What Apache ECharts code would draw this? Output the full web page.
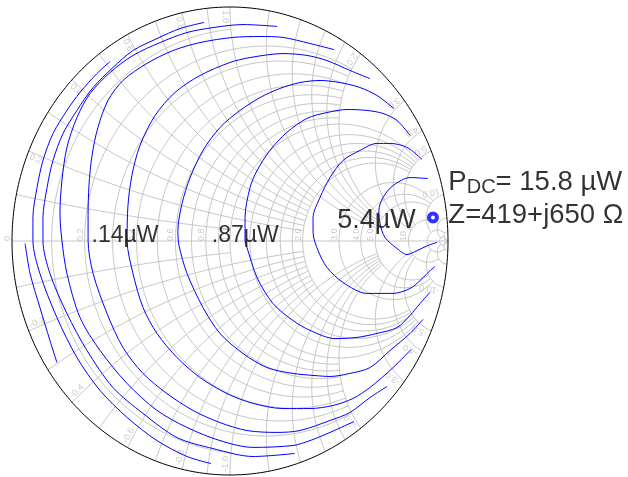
<!DOCTYPE html>
<html><head><meta charset="utf-8">
<script src="https://cdn.jsdelivr.net/npm/echarts@6/dist/echarts.min.js"></script>
<style>html,body{margin:0;padding:0;background:#fff}#c{width:628px;height:477px}</style>
</head><body><div id="c"></div>
<script>
// ---- Smith chart grid definition (normalized values and how far each circle extends) ----
const gridValues = [0.1,0.2,0.3,0.4,0.5,0.6,0.7,0.8,0.9,1.0,1.2,1.4,1.6,1.8,2,3,4,5,10,20,50];
const gridEnds   = [1,2,2,2,2,2,2,2,2,5,5,5,5,5,5,10,10,10,20,50,Infinity];
const axisLabelValues = [0,0.2,0.4,0.6,0.8,1.0,2.0,3.0,4.0,5.0,10];
const axisLabelTexts  = ['0','0.2','0.4','0.6','0.8','1.0','2.0','3.0','4.0','5.0','10'];
const rimLabelValues  = [0.2,0.4,0.6,0.8,1.0,2.0,3.0,4.0,5.0,10.0];
const rimLabelTexts   = ['0.2','0.4','0.6','0.8','1.0','2.0','3.0','4.0','5.0','10.0'];

// ---- power contours, reflection coefficient [Re, Im] ----
const contour1 = [[0.908,0.267],[0.826,0.271],[0.748,0.237],[0.702,0.186],[0.683,0.130],[0.688,0.075],[0.711,0.015],[0.766,-0.032],[0.812,-0.058],[0.858,-0.041],[0.908,-0.019],[0.950,-0.006]];
const contour2 = [[0.881,0.348],[0.812,0.400],[0.734,0.417],[0.674,0.417],[0.596,0.387],[0.518,0.344],[0.459,0.271],[0.413,0.186],[0.381,0.100],[0.381,0.036],[0.404,-0.041],[0.445,-0.113],[0.518,-0.177],[0.628,-0.224],[0.748,-0.224],[0.826,-0.203],[0.872,-0.169],[0.904,-0.139],[0.940,-0.109]];
const contour3 = [[0.826,0.451],[0.766,0.515],[0.702,0.545],[0.628,0.558],[0.537,0.562],[0.445,0.549],[0.353,0.524],[0.261,0.464],[0.183,0.387],[0.124,0.301],[0.092,0.229],[0.069,0.100],[0.069,0.002],[0.078,-0.028],[0.124,-0.156],[0.197,-0.267],[0.289,-0.340],[0.367,-0.382],[0.482,-0.417],[0.583,-0.412],[0.674,-0.395],[0.766,-0.370],[0.826,-0.318],[0.872,-0.267],[0.917,-0.220]];
const contour4 = [[0.752,0.566],[0.674,0.622],[0.596,0.656],[0.505,0.677],[0.413,0.686],[0.321,0.677],[0.229,0.652],[0.138,0.613],[0.046,0.558],[-0.046,0.485],[-0.124,0.387],[-0.183,0.271],[-0.220,0.160],[-0.239,0.045],[-0.234,-0.019],[-0.197,-0.139],[-0.124,-0.284],[-0.046,-0.395],[0.060,-0.481],[0.170,-0.541],[0.289,-0.566],[0.390,-0.575],[0.459,-0.579],[0.550,-0.566],[0.642,-0.541],[0.734,-0.468],[0.826,-0.395],[0.885,-0.335]];
const contour5 = [[0.642,0.694],[0.550,0.729],[0.445,0.771],[0.353,0.793],[0.243,0.801],[0.092,0.784],[0.000,0.763],[-0.138,0.707],[-0.252,0.635],[-0.344,0.536],[-0.413,0.408],[-0.450,0.280],[-0.468,0.152],[-0.472,0.002],[-0.445,-0.139],[-0.399,-0.284],[-0.335,-0.395],[-0.243,-0.498],[-0.138,-0.583],[-0.014,-0.652],[0.106,-0.694],[0.243,-0.716],[0.367,-0.716],[0.472,-0.703],[0.564,-0.673],[0.642,-0.626],[0.748,-0.541],[0.830,-0.464]];
const contour6 = [[0.477,0.818],[0.367,0.844],[0.243,0.870],[0.138,0.874],[0.014,0.870],[-0.138,0.848],[-0.261,0.814],[-0.381,0.759],[-0.491,0.686],[-0.560,0.600],[-0.606,0.485],[-0.633,0.365],[-0.647,0.237],[-0.651,0.109],[-0.651,0.002],[-0.628,-0.139],[-0.564,-0.310],[-0.491,-0.455],[-0.399,-0.566],[-0.289,-0.652],[-0.170,-0.724],[-0.046,-0.776],[0.078,-0.810],[0.216,-0.818],[0.321,-0.810],[0.459,-0.767],[0.550,-0.733],[0.642,-0.669],[0.720,-0.622]];
const contour7 = [[0.216,0.917],[0.060,0.925],[-0.078,0.912],[-0.197,0.891],[-0.321,0.848],[-0.445,0.793],[-0.550,0.720],[-0.642,0.630],[-0.702,0.528],[-0.748,0.400],[-0.771,0.259],[-0.780,0.118],[-0.771,0.002],[-0.748,-0.139],[-0.688,-0.327],[-0.596,-0.468],[-0.472,-0.609],[-0.335,-0.724],[-0.197,-0.797],[-0.046,-0.853],[0.106,-0.882],[0.289,-0.874],[0.367,-0.853],[0.459,-0.818],[0.569,-0.771]];
const contour8 = [[-0.119,0.934],[-0.229,0.908],[-0.335,0.865],[-0.445,0.814],[-0.537,0.741],[-0.628,0.656],[-0.702,0.558],[-0.766,0.459],[-0.812,0.344],[-0.839,0.229],[-0.858,0.100],[-0.858,0.002],[-0.826,-0.139],[-0.748,-0.310],[-0.656,-0.468],[-0.537,-0.626],[-0.399,-0.737],[-0.243,-0.840],[-0.078,-0.887],[0.106,-0.921],[0.298,-0.908]];
const contour9 = [[-0.550,0.767],[-0.610,0.716],[-0.688,0.635],[-0.748,0.558],[-0.812,0.459],[-0.858,0.344],[-0.885,0.229],[-0.904,0.100],[-0.904,0.002],[-0.872,-0.139],[-0.794,-0.327],[-0.702,-0.498],[-0.596,-0.639],[-0.472,-0.754],[-0.335,-0.853],[-0.197,-0.921],[-0.087,-0.951]];
const contour10 = [[-0.940,-0.011],[-0.917,-0.139],[-0.872,-0.284],[-0.826,-0.425],[-0.794,-0.519]];
const contours = [contour1,contour2,contour3,contour4,contour5,contour6,contour7,contour8,contour9,contour10];

// optimum point: Z = 419 + j650 Ω  (Γ)
const optimumGamma = [0.931, 0.100];

// contour level labels and their anchor (Γ)
const levelTexts = ['.14µW', '.87µW', '5.4µW'];
const levelAnchors = [[-0.635,0.024],[-0.083,0.024],[0.492,0.088]];
const pdcAnchor = [0.995, 0.251];
const zAnchor = [0.995, 0.109];

// ---------------------------------------------------------------
const FONT = 'Liberation Sans, Arial, Helvetica, sans-serif';
function gam(r, x){ const d=(r+1)*(r+1)+x*x; return [(r*r-1+x*x)/d, 2*x/d]; }
const series = [];
const gridStyle = {color:'#c6c6c6', width:1};
function addLine(pts, style, z, smooth){
  series.push({type:'line', data:pts, showSymbol:false, symbol:'none', silent:true,
    lineStyle:style, z:z, animation:false, clip:false, smooth: smooth||false});
}
gridValues.forEach((v,i)=>{
  const e = gridEnds[i];
  const pm = e===Infinity ? Math.PI/2 - 1e-4 : Math.atan(e);
  const N = 160;
  const rc=[]; for(let k=0;k<=N;k++){ rc.push(gam(v, Math.tan(-pm+2*pm*k/N))); }
  addLine(rc, gridStyle, 1);
  [v,-v].forEach(xv=>{ const a=[]; for(let k=0;k<=N;k++){ a.push(gam(Math.tan(pm*k/N), xv)); } addLine(a, gridStyle, 1); });
});
addLine([[-1,0],[1,0]], gridStyle, 1);
const outer=[]; for(let k=0;k<=360;k++){ const t=k*Math.PI/180; outer.push([Math.cos(t),Math.sin(t)]); }
addLine(outer, {color:'#000', width:1}, 3);

contours.forEach(c=>addLine(c, {color:'#0000ff', width:1}, 5, 0.3));

// grid labels
const labelItems = [];
axisLabelValues.forEach((r,i)=>{
  labelItems.push({value:[(r-1)/(r+1),0], label:{show:true, formatter:axisLabelTexts[i], position:[0,0],
    align:'left', verticalAlign:'bottom', rotate:90, fontSize:9, color:'#bdbdbd', fontFamily:FONT}});
});
rimLabelValues.forEach((v,i)=>{
  [1,-1].forEach(s=>{
    const xv = s*v;
    const th = Math.atan2(2*xv, xv*xv-1);
    let rot = th*180/Math.PI - 180; if(rot<=-180) rot+=360;
    labelItems.push({value:[0.985*Math.cos(th), 0.985*Math.sin(th)], label:{show:true,
      formatter:(s<0?'-':'')+rimLabelTexts[i], position:[0,0], align:'left',
      verticalAlign: s>0?'top':'bottom', rotate:rot, fontSize:9, color:'#bdbdbd', fontFamily:FONT}});
  });
});
series.push({type:'scatter', data:labelItems, symbolSize:0.1, itemStyle:{color:'rgba(0,0,0,0)'}, silent:true, z:2, animation:false});

// marker
series.push({type:'scatter', data:[optimumGamma], symbol:'circle', symbolSize:8,
  itemStyle:{color:'#fff', borderColor:'#0000ff', borderWidth:4}, z:8, silent:true, animation:false});

// text annotations
const textItems = [];
levelTexts.forEach((t,i)=>{
  textItems.push({value:levelAnchors[i], label:{show:true, formatter:t, position:[0,0], align:'left',
    verticalAlign:'middle', fontSize: i===2?27:23, color:'#000', fontFamily:FONT}});
});
textItems.push({value:pdcAnchor, label:{show:true, formatter:'{a|P}{b|DC}{a|= 15.8 µW}', position:[1.5,0],
  align:'left', verticalAlign:'middle', fontFamily:FONT,
  rich:{a:{fontSize:27.5, lineHeight:30, color:'#000', fontFamily:FONT}, b:{fontSize:20, lineHeight:18, verticalAlign:'bottom', color:'#000', fontFamily:FONT}}}});
textItems.push({value:zAnchor, label:{show:true, formatter:'Z=419+j650 Ω', position:[1.5,0], align:'left',
  verticalAlign:'middle', fontSize:27.5, color:'#000', fontFamily:FONT}});
series.push({type:'scatter', data:textItems, symbolSize:0.1, itemStyle:{color:'rgba(0,0,0,0)'}, silent:true, z:10, animation:false, clip:false});

const chart = echarts.init(document.getElementById('c'));
chart.setOption({
  animation:false,
  backgroundColor:'#fff',
  grid:{left:12, right:180, top:7, bottom:2},
  xAxis:{type:'value', min:-1, max:1, show:false},
  yAxis:{type:'value', min:-1, max:1, show:false},
  series: series
});
</script></body></html>
